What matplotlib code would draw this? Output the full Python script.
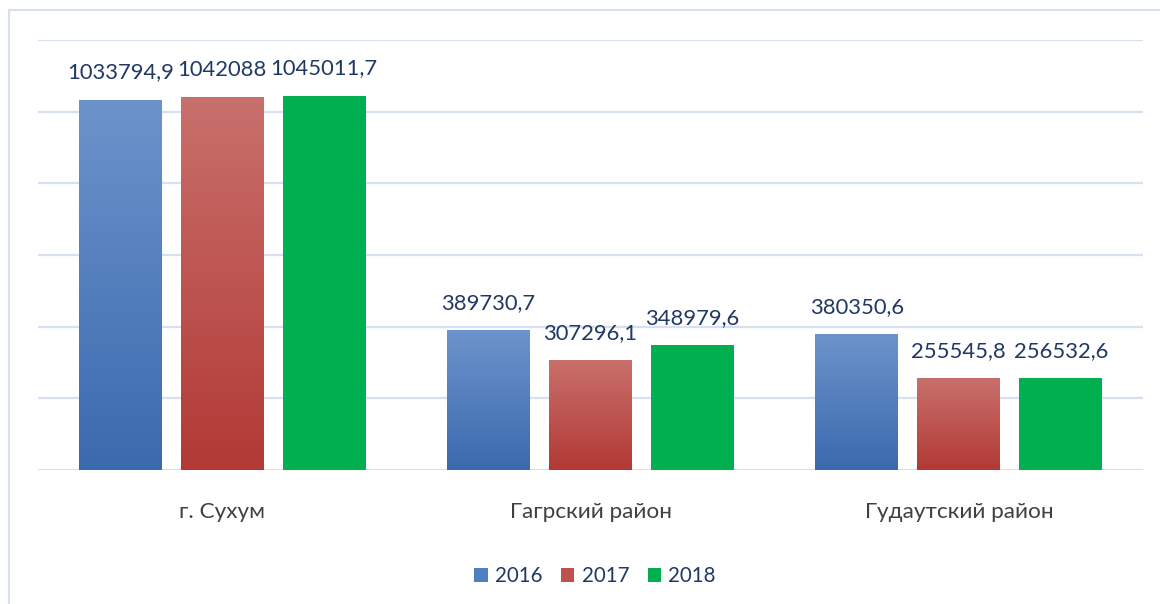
import matplotlib

matplotlib.use("Agg")
import matplotlib.pyplot as plt
import numpy as np
from matplotlib.colors import LinearSegmentedColormap
from matplotlib.patches import Patch, Rectangle

categories = ["г. Сухум", "Гагрский район", "Гудаутский район"]
years = ["2016", "2017", "2018"]
values_2016 = [1033794.9, 389730.7, 380350.6]
values_2017 = [1042088, 307296.1, 255545.8]
values_2018 = [1045011.7, 348979.6, 256532.6]
series = [values_2016, values_2017, values_2018]

# (top, bottom) colours of each series' vertical gradient
gradients = [("#6d93cb", "#3a6aae"), ("#c9706c", "#b23935"), ("#00b050", "#00b050")]
legend_colors = ["#4f7fc0", "#c0504d", "#00b050"]

label_color = "#1f3864"
grid_color = "#d6e0f0"


def fmt(v):
    s = f"{v:.1f}".rstrip("0").rstrip(".")
    return s.replace(".", ",")


def gradient_bar(ax, x, w, h, top, bottom):
    cmap = LinearSegmentedColormap.from_list("g", [bottom, top])
    img = np.linspace(0, 1, 256).reshape(-1, 1)
    im = ax.imshow(img, cmap=cmap, origin="lower", aspect="auto",
                   extent=(x, x + w, 0, h), zorder=3)
    rect = Rectangle((x, 0), w, h, transform=ax.transData, facecolor="none",
                     edgecolor="none")
    ax.add_patch(rect)
    im.set_clip_path(rect)


fig = plt.figure(figsize=(11.6, 6.04), dpi=100)
plt.rcParams["font.family"] = ["Lato", "DejaVu Sans"]

# outer chart frame
fig.add_artist(plt.Line2D([0.0078, 1.0], [1 - 10 / 604, 1 - 10 / 604],
                          transform=fig.transFigure, color=grid_color, lw=1.5))
fig.add_artist(plt.Line2D([9 / 1160, 9 / 1160], [0, 1 - 10 / 604],
                          transform=fig.transFigure, color=grid_color, lw=1.5))

ax = fig.add_axes([38 / 1160, 1 - 470 / 604, (1143 - 38) / 1160, (470 - 40) / 604])

for y in np.arange(0, 1200001, 200000):
    ax.axhline(y, color=grid_color, lw=1.6, zorder=1)

width = 0.225
step = 0.277
x = np.arange(len(categories))
for i, (vals, (top, bottom)) in enumerate(zip(series, gradients)):
    offset = (i - 1) * step
    for xi, v in zip(x, vals):
        gradient_bar(ax, xi + offset - width / 2, width, v, top, bottom)
        ax.annotate(fmt(v), (xi + offset, v), xytext=(0, 19.5),
                    textcoords="offset points", ha="center", va="center",
                    fontsize=15.8, color=label_color, zorder=4)

ax.set_xlim(-0.5, 2.5)
ax.set_ylim(0, 1200000)
for s in ax.spines.values():
    s.set_visible(False)
ax.set_yticks([])
ax.set_xticks(x)
ax.set_xticklabels(categories, fontsize=16.2, color="#404040")
ax.tick_params(axis="x", length=0, pad=23)

handles = [Patch(facecolor=c, edgecolor="none") for c in legend_colors]
fig.legend(handles, years, loc="center", bbox_to_anchor=(595 / 1160, 1 - 576 / 604),
           ncol=3, frameon=False, fontsize=14.8, handlelength=0.65, handleheight=0.65,
           handletextpad=0.35, columnspacing=0.9, labelcolor=label_color)

fig.savefig("out.png", dpi=100)
